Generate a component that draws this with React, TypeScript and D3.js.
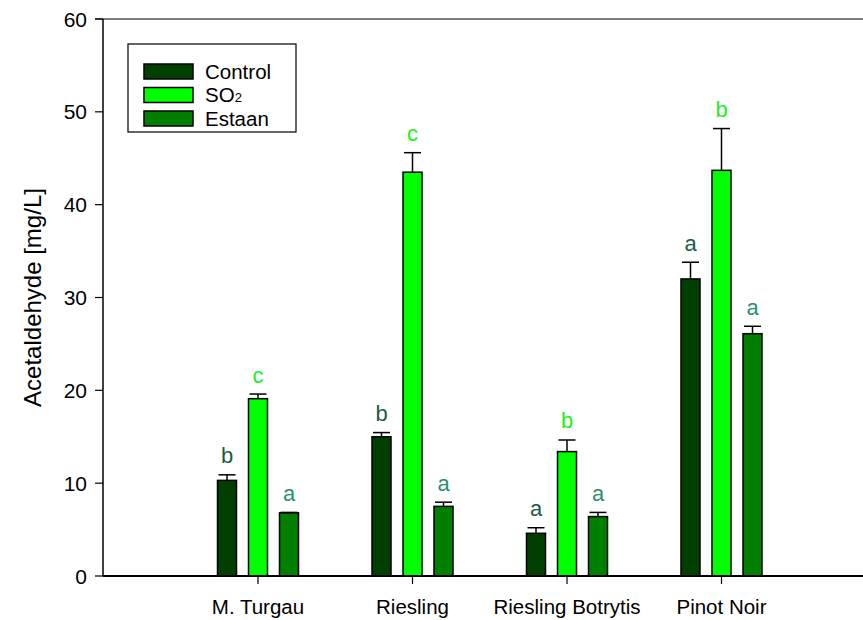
import React from "react";
import * as d3 from "d3";

// Wine varieties along the x axis
const categories = ["M. Turgau", "Riesling", "Riesling Botrytis", "Pinot Noir"];

// Treatment series
const seriesNames = ["Control", "SO2", "Estaan"];

// Acetaldehyde means [mg/L] and their standard deviations
const controlValues = [10.3, 15.0, 4.6, 32.0];
const controlErrors = [0.6, 0.45, 0.6, 1.8];
const so2Values = [19.1, 43.5, 13.4, 43.7];
const so2Errors = [0.5, 2.1, 1.25, 4.5];
const estaanValues = [6.8, 7.5, 6.4, 26.1];
const estaanErrors = [0.05, 0.45, 0.45, 0.8];

// Significance letters per series
const controlLetters = ["b", "b", "a", "a"];
const so2Letters = ["c", "c", "b", "b"];
const estaanLetters = ["a", "a", "a", "a"];

const yTicks = [0, 10, 20, 30, 40, 50, 60];

const W = 863;
const H = 620;
const FONT = "'Liberation Sans', Arial, sans-serif";

const fills: Record<string, string> = {
  Control: "#003f00",
  SO2: "#00ff00",
  Estaan: "#007f00",
};
const letterColors: Record<string, string> = {
  Control: "#1b5b45",
  SO2: "#22ee22",
  Estaan: "#2a8f72",
};

export default function App() {
  const axisLeft = 103;
  const y = d3.scaleLinear().domain([0, 60]).range([576, 19]);
  // category index -> centre position; the first slot left of M. Turgau stays empty
  const x = d3.scaleLinear().domain([0, categories.length - 1]).range([258, 721.5]);
  const inner = d3
    .scaleBand<string>()
    .domain(seriesNames)
    .range([-46.5, 46.5])
    .paddingInner(12 / 31)
    .paddingOuter(6 / 31);

  const table = seriesNames.map((name, s) => ({
    name,
    values: [controlValues, so2Values, estaanValues][s],
    errors: [controlErrors, so2Errors, estaanErrors][s],
    letters: [controlLetters, so2Letters, estaanLetters][s],
  }));

  const bw = inner.bandwidth();
  const capHalf = 8.5;

  return (
    <svg
      width={W}
      height={H}
      style={{ position: "absolute", left: 0, top: 0, background: "#fff" }}
      fontFamily={FONT}
    >
      <rect x={0} y={0} width={W} height={H} fill="#fff" />

      {/* bars, error bars and letters */}
      {table.map((ser) =>
        categories.map((c, i) => {
          const x0 = x(i) + (inner(ser.name) as number);
          const cx = x0 + bw / 2;
          const top = y(ser.values[i]);
          const errTop = y(ser.values[i] + ser.errors[i]);
          return (
            <g key={ser.name + c}>
              <line x1={cx} x2={cx} y1={top} y2={errTop} stroke="#000" strokeWidth={1.5} />
              <line x1={cx - capHalf} x2={cx + capHalf} y1={errTop} y2={errTop} stroke="#000" strokeWidth={1.5} />
              <rect
                x={x0}
                y={top}
                width={bw}
                height={y(0) - top}
                fill={fills[ser.name]}
                stroke="#000"
                strokeWidth={1.5}
              />
              <text
                x={cx}
                y={errTop - 11.5}
                textAnchor="middle"
                fontSize={22}
                fill={letterColors[ser.name]}
              >
                {ser.letters[i]}
              </text>
            </g>
          );
        })
      )}

      {/* y axis */}
      <line x1={axisLeft} x2={axisLeft} y1={y(60)} y2={y(0)} stroke="#000" strokeWidth={1.5} />
      <line x1={axisLeft - 8} x2={W} y1={y(60)} y2={y(60)} stroke="#000" strokeWidth={1.2} />
      {yTicks.map((t) => (
        <g key={t}>
          <line x1={axisLeft - 8} x2={axisLeft} y1={y(t)} y2={y(t)} stroke="#000" strokeWidth={1.2} />
          <text x={axisLeft - 16} y={y(t) + 7.5} textAnchor="end" fontSize={21} fill="#000">
            {t}
          </text>
        </g>
      ))}
      <text
        transform={`translate(41, ${y(30)}) rotate(-90)`}
        textAnchor="middle"
        fontSize={24}
        fill="#000"
      >
        Acetaldehyde [mg/L]
      </text>

      {/* x axis */}
      <line x1={axisLeft} x2={W} y1={y(0)} y2={y(0)} stroke="#000" strokeWidth={2} />
      {categories.map((c, i) => (
        <g key={c}>
          <line x1={x(i)} x2={x(i)} y1={y(0)} y2={y(0) + 8} stroke="#000" strokeWidth={1.2} />
          <text x={x(i)} y={614} textAnchor="middle" fontSize={20.5} fill="#000">
            {c}
          </text>
        </g>
      ))}

      {/* legend */}
      <rect x={128} y={44} width={168} height={88} fill="#fff" stroke="#000" strokeWidth={1.2} />
      {seriesNames.map((name, k) => {
        const rowY = 64 + k * 23.5;
        return (
          <g key={name}>
            <rect x={144} y={rowY} width={49} height={15} fill={fills[name]} stroke="#000" strokeWidth={1.5} />
            <text x={205} y={rowY + 14.5} fontSize={20.5} fill="#000">
              {name === "SO2" ? (
                <>
                  SO<tspan fontSize={13}>2</tspan>
                </>
              ) : (
                name
              )}
            </text>
          </g>
        );
      })}
    </svg>
  );
}
